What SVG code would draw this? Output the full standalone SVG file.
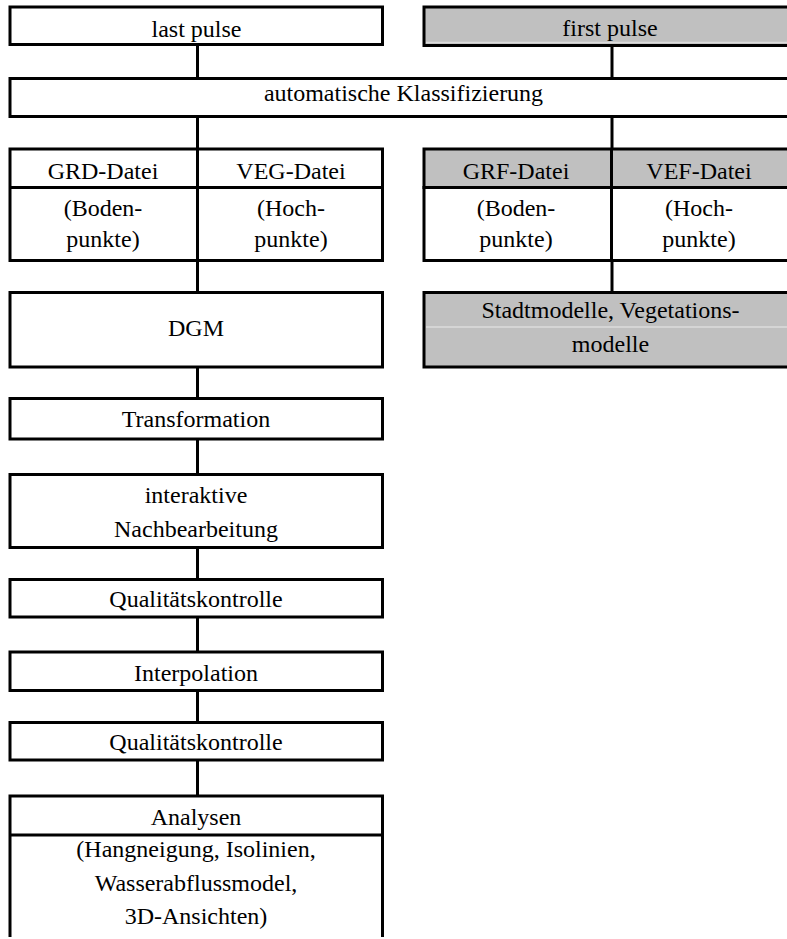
<svg xmlns="http://www.w3.org/2000/svg" width="787" height="939" viewBox="0 0 787 939" font-family="'Liberation Serif', serif" font-size="24" text-anchor="middle">
<style>
.b{fill:#fff;stroke:#000;stroke-width:3}
.g{fill:#c0c0c0;stroke:#000;stroke-width:3}
.l{stroke:#000;stroke-width:3;fill:none}
.f{stroke:#dcdcdc;stroke-width:1.5;fill:none}
</style>
<rect width="787" height="939" fill="#fff"/>
<g id="connectors">
<line class="l" x1="197.5" y1="44.5" x2="197.5" y2="78.5"/>
<line class="l" x1="612" y1="45.5" x2="612" y2="78.5"/>
<line class="l" x1="197.5" y1="116.5" x2="197.5" y2="149"/>
<line class="l" x1="612" y1="116.5" x2="612" y2="149"/>
<line class="l" x1="197.5" y1="260.5" x2="197.5" y2="292.5"/>
<line class="l" x1="612" y1="260.5" x2="612" y2="292.5"/>
<line class="l" x1="197.5" y1="367" x2="197.5" y2="398.5"/>
<line class="l" x1="197.5" y1="439" x2="197.5" y2="474.5"/>
<line class="l" x1="197.5" y1="547.5" x2="197.5" y2="579.5"/>
<line class="l" x1="197.5" y1="617" x2="197.5" y2="652"/>
<line class="l" x1="197.5" y1="690.5" x2="197.5" y2="722.5"/>
<line class="l" x1="197.5" y1="760" x2="197.5" y2="796"/>
</g>
<g id="last-pulse">
<rect class="b" x="10" y="7" width="372.5" height="37.5"/>
<text x="196.5" y="36.5">last pulse</text>
</g>
<g id="first-pulse">
<rect class="g" x="424" y="7" width="380" height="38.5"/>
<line class="f" x1="426" y1="42.5" x2="787" y2="42.5"/>
<text x="610" y="36">first pulse</text>
</g>
<g id="klassifizierung">
<rect class="b" x="10" y="78.5" width="800" height="38"/>
<text x="403.5" y="101">automatische Klassifizierung</text>
</g>
<g id="grd-veg">
<rect class="b" x="10" y="149" width="372.5" height="111.5"/>
<line class="l" x1="10" y1="187.5" x2="382.5" y2="187.5"/>
<line class="l" x1="197.5" y1="149" x2="197.5" y2="260.5"/>
<text x="103" y="179">GRD-Datei</text>
<text x="291" y="179">VEG-Datei</text>
<text x="103" y="216">(Boden-</text>
<text x="103" y="247">punkte)</text>
<text x="291" y="216">(Hoch-</text>
<text x="291" y="247">punkte)</text>
</g>
<g id="grf-vef">
<rect class="g" x="424" y="149" width="380" height="38.5"/>
<rect class="b" x="424" y="187.5" width="380" height="73"/>
<line class="l" x1="611.5" y1="149" x2="611.5" y2="260.5"/>
<text x="516" y="179">GRF-Datei</text>
<text x="699" y="179">VEF-Datei</text>
<text x="516" y="216">(Boden-</text>
<text x="516" y="247">punkte)</text>
<text x="699" y="216">(Hoch-</text>
<text x="699" y="247">punkte)</text>
</g>
<g id="dgm">
<rect class="b" x="10" y="292.5" width="372.5" height="74.5"/>
<text x="196" y="336">DGM</text>
</g>
<g id="stadtmodelle">
<rect class="g" x="424" y="292.5" width="380" height="74.5"/>
<line class="f" x1="426" y1="327" x2="787" y2="327"/>
<text x="610.5" y="318">Stadtmodelle, Vegetations-</text>
<text x="610.5" y="351.5">modelle</text>
</g>
<g id="transformation">
<rect class="b" x="10" y="398.5" width="372.5" height="40.5"/>
<text x="196" y="427">Transformation</text>
</g>
<g id="nachbearbeitung">
<rect class="b" x="10" y="474.5" width="372.5" height="73"/>
<text x="196" y="503">interaktive</text>
<text x="196" y="537">Nachbearbeitung</text>
</g>
<g id="qualitaet1">
<rect class="b" x="10" y="579.5" width="372.5" height="37.5"/>
<text x="196" y="607">Qualitätskontrolle</text>
</g>
<g id="interpolation">
<rect class="b" x="10" y="652" width="372.5" height="38.5"/>
<text x="196" y="680.5">Interpolation</text>
</g>
<g id="qualitaet2">
<rect class="b" x="10" y="722.5" width="372.5" height="37.5"/>
<text x="196" y="750">Qualitätskontrolle</text>
</g>
<g id="analysen">
<path class="l" d="M10,937 V796 H382.5 V937"/>
<line class="l" x1="10" y1="835" x2="382.5" y2="835"/>
<text x="196" y="825">Analysen</text>
<text x="196" y="857">(Hangneigung, Isolinien,</text>
<text x="196" y="890.5">Wasserabflussmodel,</text>
<text x="196" y="924">3D-Ansichten)</text>
</g>
</svg>
